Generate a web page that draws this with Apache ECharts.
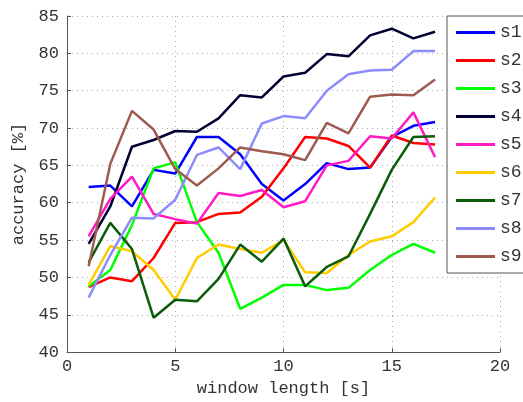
<!DOCTYPE html>
<html>
<head>
<meta charset="utf-8">
<script src="https://cdn.jsdelivr.net/npm/echarts@6/dist/echarts.min.js"></script>
<style>
  html, body { margin: 0; padding: 0; background: #fff; }
  #chart { width: 523px; height: 402px; }
</style>
</head>
<body>
<div id="chart"></div>
<script>
const windowLen = [1, 2, 3, 4, 5, 6, 7, 8, 9, 10, 11, 12, 13, 14, 15, 16, 17];
const names = ['s1', 's2', 's3', 's4', 's5', 's6', 's7', 's8', 's9'];
const colors = ['#0000ff', '#ff0000', '#00ff00', '#000033', '#ff1ac6', '#ffcc00', '#0a5c0a', '#8c8cff', '#9e5a4e'];

const s1 = [62.1, 62.3, 59.5, 64.4, 63.9, 68.8, 68.8, 66.5, 62.5, 60.3, 62.5, 65.3, 64.5, 64.7, 68.8, 70.3, 70.8];
const s2 = [48.7, 50.0, 49.5, 52.6, 57.3, 57.4, 58.5, 58.7, 60.8, 64.6, 68.8, 68.6, 67.6, 64.7, 69.0, 68.0, 67.8];
const s3 = [48.8, 51.0, 57.0, 64.6, 65.4, 57.4, 53.3, 45.8, 47.3, 49.0, 49.0, 48.3, 48.6, 51.0, 53.0, 54.5, 53.3];
const s4 = [54.5, 59.5, 67.5, 68.4, 69.6, 69.5, 71.3, 74.4, 74.1, 76.9, 77.4, 79.9, 79.6, 82.4, 83.3, 82.0, 82.9];
const s5 = [55.5, 60.5, 63.5, 58.5, 57.8, 57.2, 61.3, 60.9, 61.7, 59.4, 60.2, 65.0, 65.6, 68.9, 68.6, 72.1, 66.1];
const s6 = [49.0, 54.2, 53.5, 51.0, 47.0, 52.6, 54.4, 53.8, 53.3, 55.0, 50.7, 50.6, 53.0, 54.8, 55.5, 57.4, 60.7];
const s7 = [52.0, 57.3, 53.8, 44.6, 47.0, 46.8, 49.8, 54.4, 52.1, 55.2, 48.8, 51.4, 52.8, 58.5, 64.4, 68.8, 68.9];
const s8 = [47.3, 53.0, 58.0, 57.9, 60.4, 66.4, 67.4, 64.5, 70.6, 71.6, 71.3, 75.0, 77.2, 77.7, 77.8, 80.3, 80.3];
const s9 = [51.5, 65.2, 72.3, 69.8, 64.5, 62.3, 64.6, 67.4, 66.9, 66.5, 65.7, 70.7, 69.3, 74.2, 74.5, 74.4, 76.5];
const allSeries = [s1, s2, s3, s4, s5, s6, s7, s8, s9];

const font = 'Liberation Mono';
const chart = echarts.init(document.getElementById('chart'), null, { renderer: 'canvas' });

chart.setOption({
  animation: false,
  backgroundColor: '#fff',
  color: colors,
  grid: { left: 67, right: 23, top: 16, bottom: 45, containLabel: false },
  xAxis: {
    type: 'value',
    min: 0, max: 20, interval: 5,
    name: 'window length [s]',
    nameLocation: 'middle',
    nameGap: 26,
    nameTextStyle: { fontFamily: font, fontSize: 17, color: '#333' },
    axisLine: { show: true, lineStyle: { color: '#555', width: 1 } },
    axisTick: { show: true, inside: true, length: 4, lineStyle: { color: '#555' } },
    axisLabel: { fontFamily: font, fontSize: 17, color: '#333', margin: 6 },
    splitLine: { show: true, lineStyle: { color: '#aaa', type: [1, 4], width: 1 } }
  },
  yAxis: {
    type: 'value',
    min: 40, max: 85, interval: 5,
    name: 'accuracy [%]',
    nameLocation: 'middle',
    nameGap: 40,
    nameTextStyle: { fontFamily: font, fontSize: 17, color: '#333' },
    axisLine: { show: true, lineStyle: { color: '#555', width: 1 } },
    axisTick: { show: true, inside: true, length: 4, lineStyle: { color: '#555' } },
    axisLabel: { fontFamily: font, fontSize: 17, color: '#333', margin: 8 },
    splitLine: { show: true, lineStyle: { color: '#aaa', type: [1, 4], width: 1 } }
  },
  legend: {
    orient: 'vertical',
    left: 447,
    top: 16,
    data: names,
    icon: 'rect',
    itemWidth: 39,
    itemHeight: 3,
    itemGap: 9,
    padding: [7, 40, 7, 9],
    backgroundColor: '#fff',
    borderColor: '#555',
    borderWidth: 1,
    textStyle: { fontFamily: font, fontSize: 18, color: '#333', lineHeight: 19 }
  },
  series: allSeries.map((vals, i) => ({
    name: names[i],
    type: 'line',
    data: windowLen.map((x, k) => [x, vals[k]]),
    showSymbol: false,
    symbol: 'none',
    lineStyle: { width: 2.5, color: colors[i] },
    itemStyle: { color: colors[i] }
  }))
});
</script>
</body>
</html>
